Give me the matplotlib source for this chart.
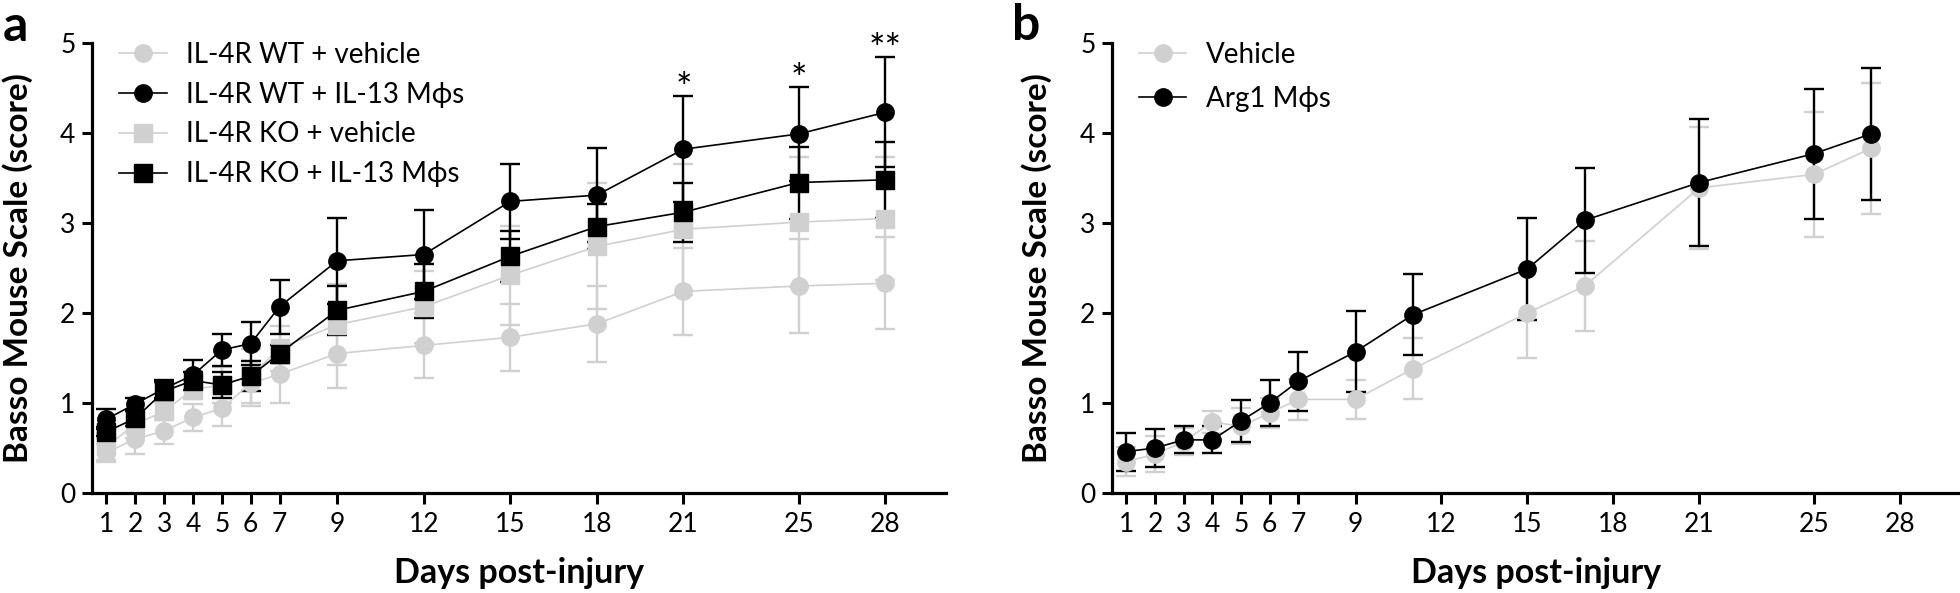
import matplotlib
matplotlib.use('Agg')
from matplotlib import pyplot as plt
from matplotlib.lines import Line2D

plt.rcParams['font.family'] = ['Lato', 'DejaVu Sans']

GREY = '#d0d0d0'

# panel a
days_a = [1, 2, 3, 4, 5, 6, 7, 9, 12, 15, 18, 21, 25, 28]
wt_veh = [0.45, 0.60, 0.69, 0.84, 0.94, 1.22, 1.32, 1.55, 1.64, 1.73, 1.88, 2.24, 2.30, 2.33]
wt_veh_err = [0.10, 0.17, 0.15, 0.15, 0.20, 0.25, 0.32, 0.38, 0.36, 0.37, 0.42, 0.48, 0.52, 0.51]
wt_il13 = [0.82, 0.99, 1.16, 1.31, 1.59, 1.66, 2.07, 2.58, 2.65, 3.24, 3.31, 3.82, 3.99, 4.23]
wt_il13_err = [0.11, 0.07, 0.10, 0.17, 0.18, 0.24, 0.30, 0.48, 0.49, 0.42, 0.52, 0.59, 0.52, 0.61]
ko_veh = [0.52, 0.76, 0.91, 1.15, 1.20, 1.30, 1.61, 1.87, 2.07, 2.42, 2.74, 2.93, 3.01, 3.05]
ko_veh_err = [0.15, 0.15, 0.10, 0.10, 0.20, 0.30, 0.25, 0.45, 0.40, 0.55, 0.70, 0.73, 0.72, 0.68]
ko_il13 = [0.68, 0.83, 1.13, 1.25, 1.20, 1.30, 1.55, 2.03, 2.24, 2.63, 2.96, 3.12, 3.45, 3.48]
ko_il13_err = [0.05, 0.08, 0.10, 0.10, 0.14, 0.17, 0.10, 0.27, 0.30, 0.28, 0.25, 0.33, 0.40, 0.42]
star_days = [21, 25, 28]
star_text = ['*', '*', '**']

# panel b
days_b = [1, 2, 3, 4, 5, 6, 7, 9, 11, 15, 17, 21, 25, 27]
veh_b = [0.35, 0.43, 0.57, 0.79, 0.74, 0.89, 1.04, 1.04, 1.38, 2.00, 2.30, 3.39, 3.54, 3.83]
veh_b_err = [0.16, 0.20, 0.15, 0.12, 0.20, 0.17, 0.23, 0.22, 0.34, 0.50, 0.50, 0.68, 0.69, 0.73]
arg1_b = [0.46, 0.50, 0.59, 0.59, 0.80, 1.00, 1.24, 1.57, 1.98, 2.49, 3.03, 3.45, 3.77, 3.99]
arg1_b_err = [0.21, 0.21, 0.15, 0.15, 0.23, 0.26, 0.33, 0.45, 0.45, 0.57, 0.58, 0.70, 0.72, 0.73]

tick_days = [1, 2, 3, 4, 5, 6, 7, 9, 12, 15, 18, 21, 25, 28]

W, H = 1960, 593
fig = plt.figure(figsize=(W / 100, H / 100), dpi=100)


def px_ax(left, right):
    # axes rect from pixel columns, rows shared by both panels
    return [left / W, (H - 493) / H, (right - left) / W, 450 / H]


def series(ax, x, y, err, color, marker):
    ax.errorbar(x, y, yerr=err, color=color, marker=marker, markersize=12.5,
                linewidth=1.2, elinewidth=1.7, capsize=7, capthick=1.7,
                markeredgecolor=color, clip_on=False)


def style(ax):
    ax.set_xlim(0.5, 30.1)
    ax.set_ylim(0, 5)
    ax.set_xticks(tick_days)
    ax.set_yticks([0, 1, 2, 3, 4, 5])
    for s in ['top', 'right']:
        ax.spines[s].set_visible(False)
    for s in ['left', 'bottom']:
        ax.spines[s].set_linewidth(2.3)
    ax.tick_params(axis='x', direction='out', length=8, width=2.2, pad=6, labelsize=19)
    ax.tick_params(axis='y', direction='out', length=7, width=2.2, pad=5, labelsize=19)


def legend(ax, handles, labels, spacing):
    ax.legend(handles, labels, loc='upper left', bbox_to_anchor=(0.032, 1.003),
              frameon=False, fontsize=20, handlelength=1.7, handletextpad=0.7,
              labelspacing=spacing, borderpad=0, borderaxespad=0)


ax_a = fig.add_axes(px_ax(92, 946))
series(ax_a, days_a, wt_veh, wt_veh_err, GREY, 'o')
series(ax_a, days_a, ko_veh, ko_veh_err, GREY, 's')
series(ax_a, days_a, ko_il13, ko_il13_err, 'black', 's')
series(ax_a, days_a, wt_il13, wt_il13_err, 'black', 'o')
style(ax_a)

for d, t in zip(star_days, star_text):
    i = days_a.index(d)
    ax_a.text(d, wt_il13[i] + wt_il13_err[i] - 0.13, t, ha='center', va='bottom',
              fontsize=28, clip_on=False)

handles_a = [Line2D([], [], color=GREY, marker='o', markersize=12.5, lw=1.2),
             Line2D([], [], color='black', marker='o', markersize=12.5, lw=1.2),
             Line2D([], [], color=GREY, marker='s', markersize=12.5, lw=1.2),
             Line2D([], [], color='black', marker='s', markersize=12.5, lw=1.2)]
labels_a = ['IL-4R WT + vehicle', 'IL-4R WT + IL-13 M\u03d5s',
            'IL-4R KO + vehicle', 'IL-4R KO + IL-13 M\u03d5s']
legend(ax_a, handles_a, labels_a, 0.5)

ax_b = fig.add_axes(px_ax(1112, 1960))
series(ax_b, days_b, veh_b, veh_b_err, GREY, 'o')
series(ax_b, days_b, arg1_b, arg1_b_err, 'black', 'o')
style(ax_b)

handles_b = [Line2D([], [], color=GREY, marker='o', markersize=12.5, lw=1.2),
             Line2D([], [], color='black', marker='o', markersize=12.5, lw=1.2)]
legend(ax_b, handles_b, ['Vehicle', 'Arg1 M\u03d5s'], 0.66)

# axis titles and panel letters
ylab = 'Basso Mouse Scale (score)'
fig.text(18 / W, 1 - 268 / H, ylab, rotation=90, ha='center', va='center',
         fontsize=24, fontweight='bold')
fig.text(1037 / W, 1 - 268 / H, ylab, rotation=90, ha='center', va='center',
         fontsize=24, fontweight='bold')
fig.text(519 / W, 1 - 573 / H, 'Days post-injury', ha='center', va='center',
         fontsize=24.5, fontweight='bold')
fig.text(1536 / W, 1 - 573 / H, 'Days post-injury', ha='center', va='center',
         fontsize=24.5, fontweight='bold')
fig.text(3 / W, 1 - 41 / H, 'a', ha='left', va='baseline', fontsize=36, fontweight='bold')
fig.text(1012 / W, 1 - 40 / H, 'b', ha='left', va='baseline', fontsize=36, fontweight='bold')

plt.savefig('out.png', dpi=100)
